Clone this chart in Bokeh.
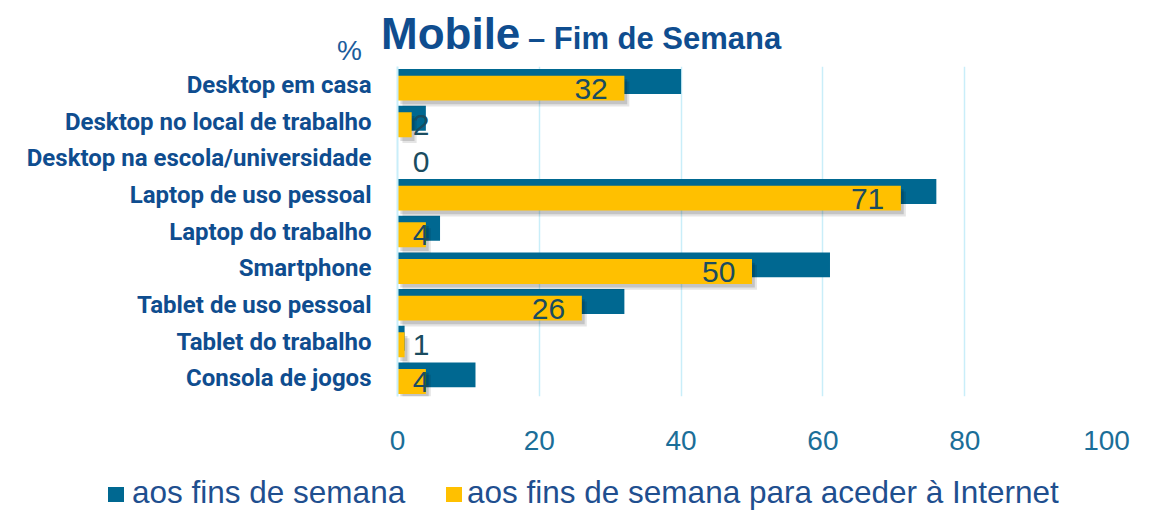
import numpy as np
from bokeh.plotting import figure
from bokeh.layouts import column
from bokeh.models import Range1d, FixedTicker, ColumnDataSource, Div
from bokeh.core.properties import value
from bokeh.embed import file_html
from bokeh.resources import INLINE

# ---------------- data ----------------
categories = [
    "Desktop em casa",
    "Desktop no local de trabalho",
    "Desktop na escola/universidade",
    "Laptop de uso pessoal",
    "Laptop do trabalho",
    "Smartphone",
    "Tablet de uso pessoal",
    "Tablet do trabalho",
    "Consola de jogos",
]
weekend = [40, 4, 0, 76, 6, 61, 32, 1, 11]
weekend_internet = [32, 2, 0, 71, 4, 50, 26, 1, 4]
x_ticks = [0, 20, 40, 60, 80, 100]
series_names = ["aos fins de semana", "aos fins de semana para aceder à Internet"]
title_main = "Mobile"
title_sub = "– Fim de Semana"
unit_label = "%"

# ---------------- styling ----------------
BLUE = "#006891"
YELLOW = "#FFC000"
NAVY = "#0f4d8f"
TICK = "#1b6e98"
VALTXT = "#1a4c60"
GRID = "#c9eef9"
LEGTXT = "#1f4f8f"
HEAVY = "Roboto"
SANS = "Liberation Sans"
W = 1147
H_HEAD = 66
H_MAIN = 400
H_FOOT = 44

# ---------------- header (title + unit) ----------------
head_svg = (
    f'<svg xmlns="http://www.w3.org/2000/svg" width="{W}" height="{H_HEAD}" '
    f'style="display:block">'
    f'<text x="381" y="49" font-family="{HEAVY}" font-weight="bold" '
    f'font-size="44px" fill="{NAVY}">{title_main}</text>'
    f'<text x="528" y="49" font-family="{HEAVY}" font-weight="bold" '
    f'font-size="31px" fill="{NAVY}">{title_sub}</text>'
    f'<text x="337" y="60" font-family="{SANS}" font-size="28px" '
    f'fill="#1c5c9c">{unit_label}</text>'
    f'</svg>'
)
head = Div(text=head_svg, width=W, height=H_HEAD, margin=0)

# ---------------- main chart ----------------
idx = np.arange(len(categories))
bar_h = 0.68
off = 0.089
yel_arr = np.array(weekend_internet, dtype=float)

src = ColumnDataSource(dict(
    y_blue=idx - off,
    y_yel=idx + off,
    blue=weekend,
    yel=weekend_internet,
    yel_s1=yel_arr + 0.7,
    yel_s2=yel_arr + 0.4,
    y_s1=idx + off + 0.16,
    y_s2=idx + off + 0.10,
    lab_x=np.maximum(yel_arr, 6.85),
    lab_y=idx + off + 0.02,
    lab=[str(v) for v in weekend_internet],
))

p = figure(width=W, height=H_MAIN,
           x_range=Range1d(0, 100), y_range=Range1d(len(categories) - 0.5, -0.5),
           output_backend="svg", toolbar_location=None, title_location=None,
           min_border_left=397, min_border_right=W - 397 - 709,
           min_border_top=0, min_border_bottom=H_MAIN - 330)
p.outline_line_color = None
p.background_fill_color = "white"
p.border_fill_color = "white"

p.ygrid.visible = False
p.xgrid.ticker = FixedTicker(ticks=x_ticks)
p.xgrid.grid_line_color = GRID
p.xgrid.grid_line_width = 1.5

p.hbar(y="y_blue", left=0, right="blue", height=bar_h, source=src,
       fill_color=BLUE, line_color=None)
p.hbar(y="y_s1", left=0.7, right="yel_s1", height=bar_h, source=src,
       fill_color="black", fill_alpha=0.10, line_color=None)
p.hbar(y="y_s2", left=0.4, right="yel_s2", height=bar_h, source=src,
       fill_color="black", fill_alpha=0.14, line_color=None)
p.hbar(y="y_yel", left=0, right="yel", height=bar_h, source=src,
       fill_color=YELLOW, line_color=None)

p.text(x="lab_x", y="lab_y", text="lab", source=src, x_offset=-16.6,
       text_align="right", text_baseline="middle",
       text_font=value(SANS), text_font_size="30px", text_color=VALTXT)

ya = p.yaxis[0]
ya.ticker = FixedTicker(ticks=list(idx))
ya.major_label_overrides = {int(i): c for i, c in zip(idx, categories)}
ya.major_label_text_font = HEAVY
ya.major_label_text_font_style = "bold"
ya.major_label_text_font_size = "24px"
ya.major_label_text_color = NAVY
ya.major_tick_line_color = None
ya.minor_tick_line_color = None
ya.major_tick_out = 0
ya.major_label_standoff = 26
ya.axis_line_color = GRID
ya.axis_line_width = 2

xa = p.xaxis[0]
xa.ticker = FixedTicker(ticks=x_ticks)
xa.major_label_text_font = SANS
xa.major_label_text_font_size = "28px"
xa.major_label_text_color = TICK
xa.axis_line_color = None
xa.major_tick_line_color = None
xa.minor_tick_line_color = None
xa.major_tick_out = 0
xa.major_label_standoff = 34

# ---------------- footer (legend) ----------------
leg_svg = (
    f'<svg xmlns="http://www.w3.org/2000/svg" width="{W}" height="{H_FOOT}" '
    f'style="display:block">'
    f'<rect x="108" y="21" width="16" height="15" fill="{BLUE}"/>'
    f'<text x="132" y="37" font-family="{SANS}" font-size="31.5px" '
    f'fill="{LEGTXT}">{series_names[0]}</text>'
    f'<rect x="446" y="21" width="16" height="15" fill="{YELLOW}"/>'
    f'<text x="467" y="37" font-family="{SANS}" font-size="31.5px" '
    f'fill="{LEGTXT}">{series_names[1]}</text>'
    f'</svg>'
)
foot = Div(text=leg_svg, width=W, height=H_FOOT, margin=0)

layout = column(head, p, foot, spacing=0)
open("out.html", "w").write(file_html(layout, INLINE))
